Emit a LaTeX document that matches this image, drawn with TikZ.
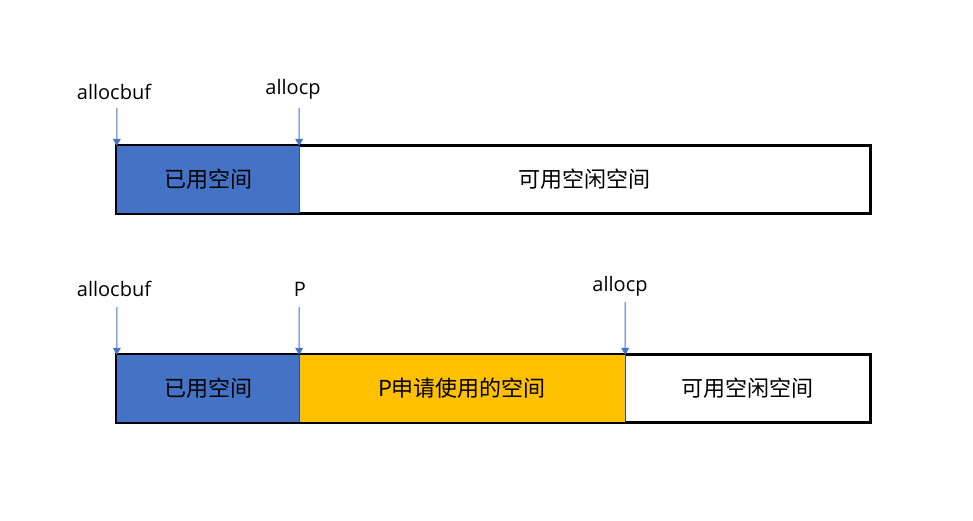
\documentclass[tikz,border=0pt]{standalone}
\usepackage{fontspec}
\setmainfont{Open Sans}
\newfontfamily\cjk{Noto Sans CJK SC}
\usetikzlibrary{arrows.meta}
\definecolor{usedblue}{HTML}{4472C4}
\definecolor{reqyellow}{HTML}{FFC000}
\definecolor{edgeblue}{HTML}{2F528F}
\pgfdeclarelayer{bg}
\pgfsetlayers{bg,main}
\begin{document}
\begin{tikzpicture}[x=1pt, y=-1pt,
  seg/.style={shape=rectangle, minimum height=67pt, inner sep=0pt, font=\fontsize{22}{22}\selectfont\cjk},
  used/.style={seg, fill=usedblue},
  req/.style={seg, fill=reqyellow},
  free/.style={seg},
  frame/.style={draw=black, line width=3pt},
  divider/.style={draw=edgeblue, line width=1.2pt},
  ptr/.style={-{Triangle[width=8pt,length=7pt]}, draw=usedblue, line width=1pt},
  lbl/.style={font=\fontsize{20}{20}\selectfont, inner sep=0pt}]
\useasboundingbox (0,0) rectangle (973,520);
\node[lbl] (buf1) at (114,92) {allocbuf};
\node[lbl] (cur1) at (293,89) {allocp};
\node[lbl] (buf2) at (114,289) {allocbuf};
\node[lbl] (p2) at (300,289) {P};
\node[lbl] (cur2) at (620,286) {allocp};
\node[free, minimum width=571pt] (free1) at (584.5,179.5) {可用空闲空间};
\node[used, minimum width=182pt] (used1) at (208,179.5) {已用空间};
\node[free, minimum width=245pt] (free2) at (747.5,388.5) {可用空闲空间};
\node[req, minimum width=326pt] (req2) at (462,388.5) {P\cjk 申请使用的空间};
\node[used, minimum width=182pt] (used2) at (208,388.5) {已用空间};
\begin{pgfonlayer}{bg}
\draw[frame] (used1.north west) rectangle (free1.south east);
\draw[frame] (used2.north west) rectangle (free2.south east);
\end{pgfonlayer}
\draw[divider] (used1.north east) -- (used1.south east);
\draw[divider] (used2.north east) -- (used2.south east);
\draw[divider] (req2.north east) -- (req2.south east);
\coordinate (s1) at (117,108);
\coordinate (s2) at (299,108);
\coordinate (s3) at (117,307);
\coordinate (s4) at (299,307);
\coordinate (s5) at (625,302);
\draw[ptr] (s1) -- (used1.north west);
\draw[ptr] (s2) -- (used1.north east);
\draw[ptr] (s3) -- (used2.north west);
\draw[ptr] (s4) -- (used2.north east);
\draw[ptr] (s5) -- (req2.north east);
\end{tikzpicture}
\end{document}
